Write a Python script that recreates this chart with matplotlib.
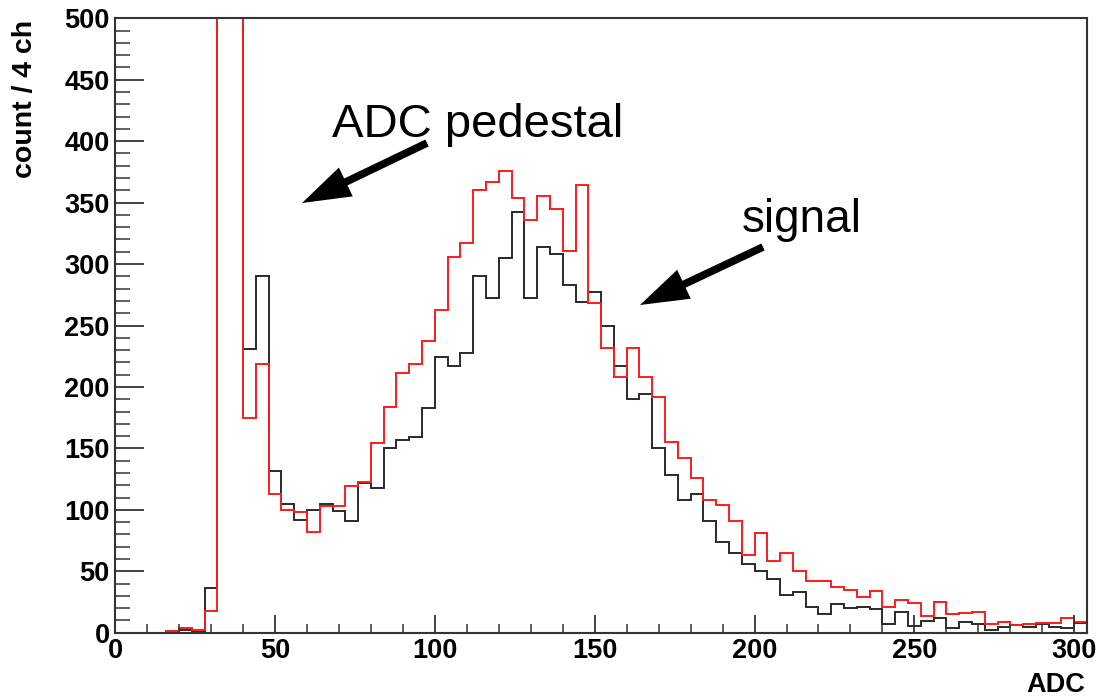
import numpy as np
import matplotlib
matplotlib.use("Agg")
import matplotlib.pyplot as plt
from matplotlib.ticker import MultipleLocator

plt.rcParams['font.family'] = ['Liberation Sans', 'DejaVu Sans']

# bin edges: 4 ADC channels per bin, 0..304
bin_width = 4
n_bins = 76

black_counts = [0, 0, 0, 0, 1, 2, 1, 36, 1400, 1100,
                231, 290, 132, 105, 92, 100, 105, 99, 91, 122,
                118, 150, 157, 159, 183, 224, 217, 228, 290, 272,
                305, 342, 272, 314, 308, 283, 269, 277, 250, 217,
                190, 194, 150, 128, 108, 113, 91, 74, 65, 56,
                50, 44, 31, 33, 21, 15, 23, 20, 21, 19,
                7, 17, 5.5, 9.5, 12, 4, 9, 7, 2, 5,
                6, 5, 7, 5, 4, 8]

red_counts = [0, 0, 0, 0, 1.5, 3.5, 2.5, 18, 1500, 1200,
              175, 219, 113, 100, 98, 82, 103, 103, 119, 123,
              154, 184, 211, 219, 237, 263, 306, 317, 360, 367,
              376, 354, 336, 355, 345, 311, 364, 268, 232, 208,
              232, 208, 192, 155, 142, 126, 108, 104, 91, 63,
              81, 58, 65, 50, 42, 42, 37, 35, 29, 34,
              21, 27, 24, 14, 25, 15, 16, 17, 7, 9,
              6, 7, 8, 8, 12, 9]

x_label = "ADC"
y_label = "count / 4 ch"
note_pedestal = "ADC pedestal"
note_signal = "signal"

edges = np.arange(0, bin_width * (n_bins + 1), bin_width)

fig = plt.figure(figsize=(11, 7), dpi=100)
ax = fig.add_axes([0.1047, 0.0961, 0.8835, 0.8778])

ax.stairs(black_counts, edges, color='#2a2a2a', lw=1.4, baseline=0)
ax.stairs(red_counts, edges, color='#ff1a1a', lw=1.4, baseline=0)

ax.set_xlim(0, 304)
ax.set_ylim(0, 500)

ax.xaxis.set_major_locator(MultipleLocator(50))
ax.xaxis.set_minor_locator(MultipleLocator(10))
ax.yaxis.set_major_locator(MultipleLocator(50))
ax.yaxis.set_minor_locator(MultipleLocator(10))

axcol = '#333333'
ax.tick_params(axis='x', which='major', direction='in', length=13, width=1.3,
               color=axcol, labelsize=19.5, pad=4)
ax.tick_params(axis='x', which='minor', direction='in', length=6.5, width=1.1,
               color=axcol)
ax.tick_params(axis='y', which='major', direction='in', length=21, width=1.3,
               color=axcol, labelsize=19.5, pad=4)
ax.tick_params(axis='y', which='minor', direction='in', length=10.5, width=1.1,
               color=axcol)
for lab in ax.get_xticklabels() + ax.get_yticklabels():
    lab.set_fontweight('bold')
for sp in ax.spines.values():
    sp.set_color(axcol)
    sp.set_linewidth(1.5)

fig.text(1085 / 1100, 1 - 685 / 700, x_label, ha='right', va='center',
         fontsize=19.5, fontweight='bold')
fig.text(25 / 1100, 1 - 99 / 700, y_label, ha='center', va='center',
         rotation=90, fontsize=20.5, fontweight='bold')

fig.text(332 / 1100, 1 - 137 / 700, note_pedestal, ha='left', va='baseline',
         fontsize=34)
fig.text(742 / 1100, 1 - 232 / 700, note_signal, ha='left', va='baseline',
         fontsize=33)

arrow_style = "simple,head_length=35,head_width=23,tail_width=5.5"
ax.annotate("", xy=(302, 700 - 203), xycoords='figure pixels',
            xytext=(427, 700 - 143), textcoords='figure pixels',
            arrowprops=dict(arrowstyle=arrow_style, color='black',
                            mutation_scale=1, shrinkA=0, shrinkB=0, lw=0))
ax.annotate("", xy=(640, 700 - 305), xycoords='figure pixels',
            xytext=(763, 700 - 247), textcoords='figure pixels',
            arrowprops=dict(arrowstyle=arrow_style, color='black',
                            mutation_scale=1, shrinkA=0, shrinkB=0, lw=0))

fig.savefig("out.png", dpi=100, facecolor='white')
